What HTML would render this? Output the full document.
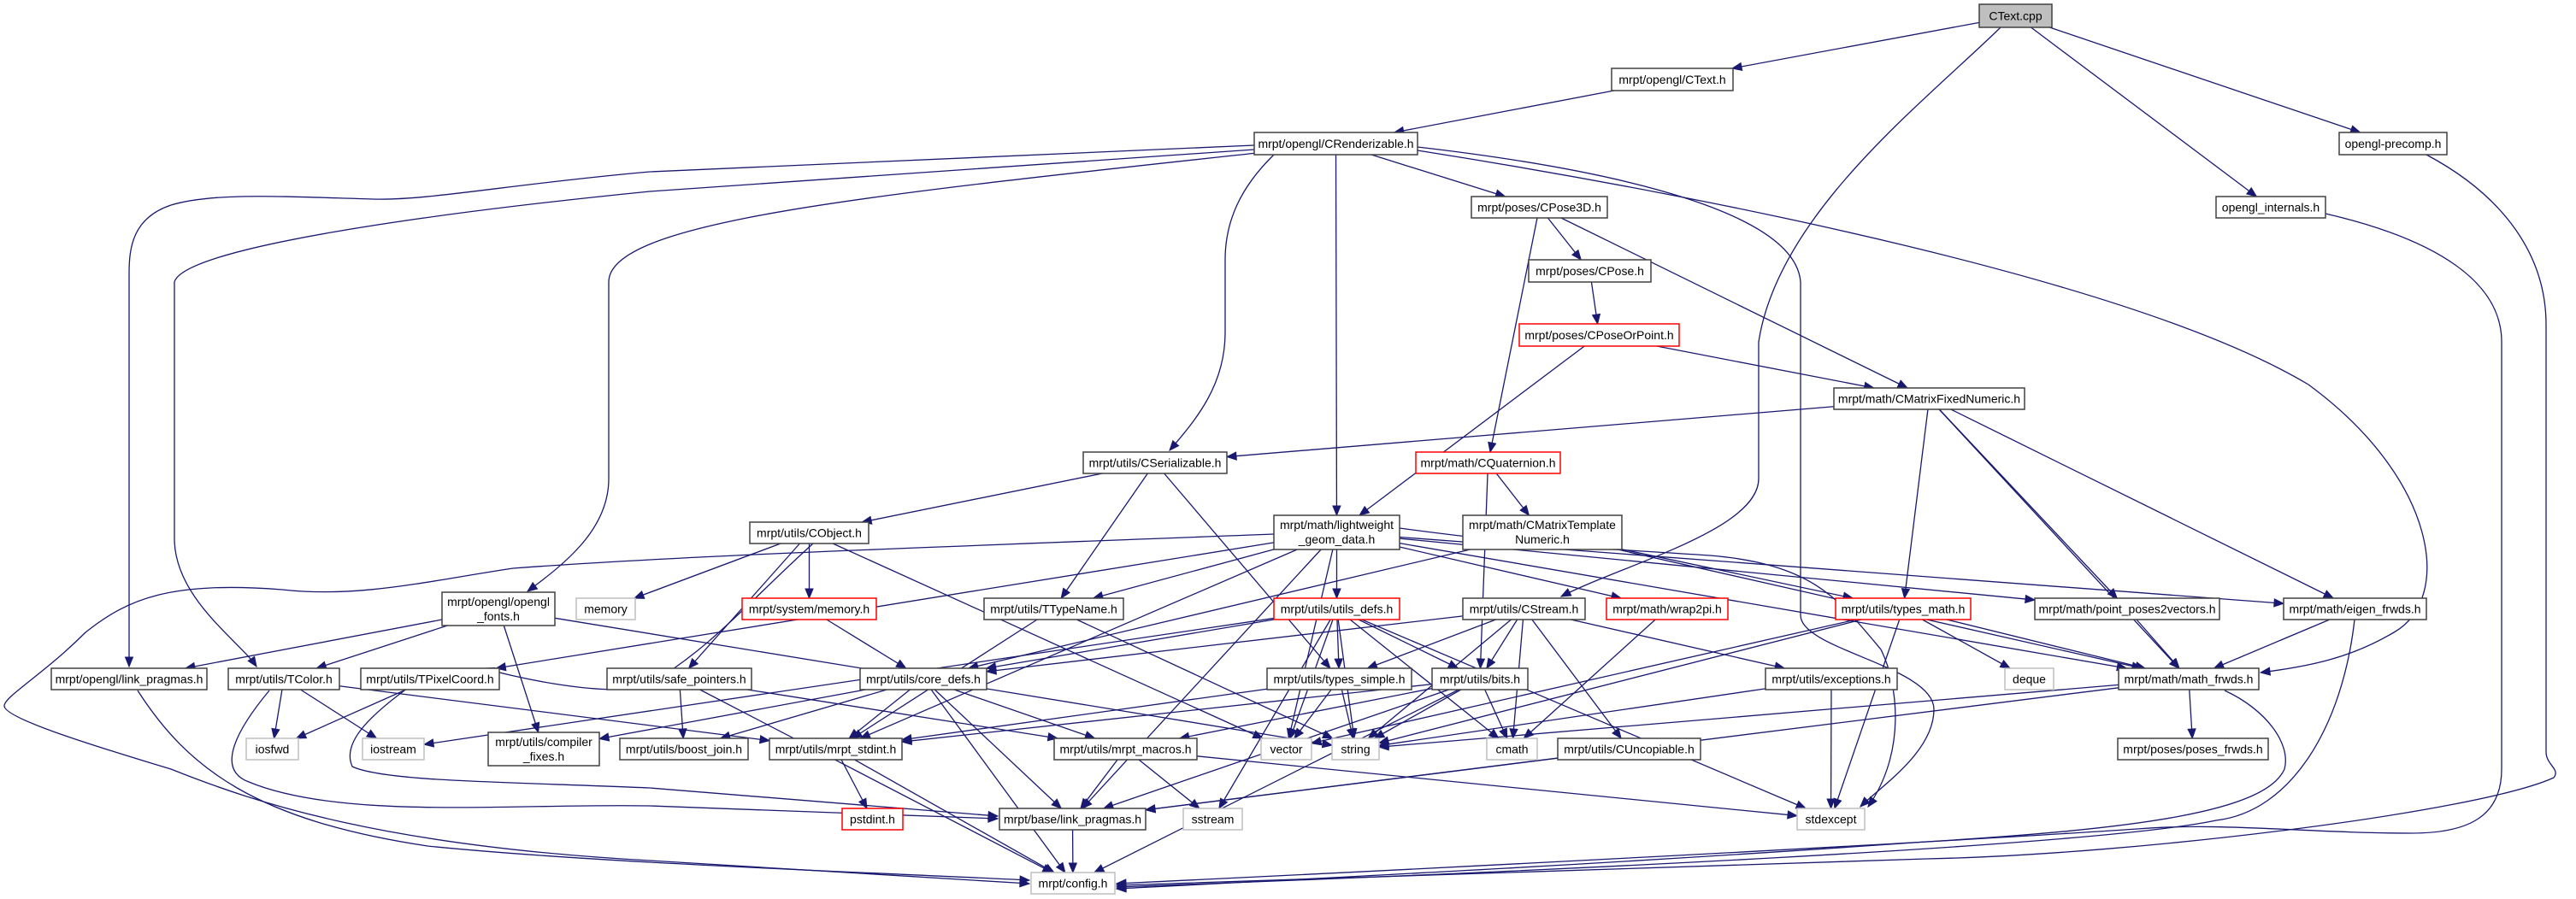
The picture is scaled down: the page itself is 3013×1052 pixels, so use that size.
<!DOCTYPE html>
<html><head><meta charset="utf-8">
<style>
html,body{margin:0;padding:0;background:#fff;}
svg{display:block;}
text{font-family:"Liberation Sans",Arial,sans-serif;font-size:14px;fill:#000;}
</style></head>
<body>
<svg id="g" width="3013" height="1052" viewBox="0 0 3013 1052" xmlns="http://www.w3.org/2000/svg">
<g id="edges" fill="none" stroke="#191970" stroke-width="1.3"></g>
<g id="arrows" fill="#191970" stroke="#191970" stroke-width="1"></g>
<g id="nodes" stroke-width="1.5">
<rect x="2315" y="5" width="85" height="27" fill="#bfbfbf" stroke="#404040"/><text x="2357.5" y="23.5" text-anchor="middle">CText.cpp</text>
<rect x="1885" y="80" width="142" height="26" fill="#fff" stroke="#404040"/><text x="1956" y="98" text-anchor="middle">mrpt/opengl/CText.h</text>
<rect x="2736" y="155" width="126" height="26" fill="#fff" stroke="#404040"/><text x="2799" y="173" text-anchor="middle">opengl-precomp.h</text>
<rect x="2592" y="230" width="128" height="25" fill="#fff" stroke="#404040"/><text x="2656" y="247.5" text-anchor="middle">opengl_internals.h</text>
<rect x="1467" y="155" width="191" height="26" fill="#fff" stroke="#404040"/><text x="1562.5" y="173" text-anchor="middle">mrpt/opengl/CRenderizable.h</text>
<rect x="1721" y="230" width="159" height="25" fill="#fff" stroke="#404040"/><text x="1800.5" y="247.5" text-anchor="middle">mrpt/poses/CPose3D.h</text>
<rect x="1788" y="304" width="143" height="26" fill="#fff" stroke="#404040"/><text x="1859.5" y="322" text-anchor="middle">mrpt/poses/CPose.h</text>
<rect x="1777" y="379" width="187" height="26" fill="#fff" stroke="#ff0000"/><text x="1870.5" y="397" text-anchor="middle">mrpt/poses/CPoseOrPoint.h</text>
<rect x="2145" y="454" width="223" height="25" fill="#fff" stroke="#404040"/><text x="2256.5" y="471.5" text-anchor="middle">mrpt/math/CMatrixFixedNumeric.h</text>
<rect x="1656" y="529" width="169" height="25" fill="#fff" stroke="#ff0000"/><text x="1740.5" y="546.5" text-anchor="middle">mrpt/math/CQuaternion.h</text>
<rect x="1267" y="529" width="168" height="25" fill="#fff" stroke="#404040"/><text x="1351" y="546.5" text-anchor="middle">mrpt/utils/CSerializable.h</text>
<rect x="1490" y="603" width="147" height="40" fill="#fff" stroke="#404040"/><text x="1563.5" y="619" text-anchor="middle">mrpt/math/lightweight</text><text x="1563.5" y="636" text-anchor="middle">_geom_data.h</text>
<rect x="1711" y="603" width="186" height="40" fill="#fff" stroke="#404040"/><text x="1804" y="619" text-anchor="middle">mrpt/math/CMatrixTemplate</text><text x="1804" y="636" text-anchor="middle">Numeric.h</text>
<rect x="877" y="611" width="139" height="25" fill="#fff" stroke="#404040"/><text x="946.5" y="628.5" text-anchor="middle">mrpt/utils/CObject.h</text>
<rect x="517" y="693" width="132" height="39" fill="#fff" stroke="#404040"/><text x="583" y="709" text-anchor="middle">mrpt/opengl/opengl</text><text x="583" y="726" text-anchor="middle">_fonts.h</text>
<rect x="674" y="700" width="69" height="25" fill="#fff" stroke="#bfbfbf"/><text x="708.5" y="717.5" text-anchor="middle">memory</text>
<rect x="868" y="700" width="157" height="25" fill="#fff" stroke="#ff0000"/><text x="946.5" y="717.5" text-anchor="middle">mrpt/system/memory.h</text>
<rect x="1151" y="700" width="163" height="25" fill="#fff" stroke="#404040"/><text x="1232.5" y="717.5" text-anchor="middle">mrpt/utils/TTypeName.h</text>
<rect x="1490" y="700" width="147" height="25" fill="#fff" stroke="#ff0000"/><text x="1563.5" y="717.5" text-anchor="middle">mrpt/utils/utils_defs.h</text>
<rect x="1711" y="700" width="143" height="25" fill="#fff" stroke="#404040"/><text x="1782.5" y="717.5" text-anchor="middle">mrpt/utils/CStream.h</text>
<rect x="1879" y="700" width="142" height="25" fill="#fff" stroke="#ff0000"/><text x="1950" y="717.5" text-anchor="middle">mrpt/math/wrap2pi.h</text>
<rect x="2147" y="700" width="158" height="25" fill="#fff" stroke="#ff0000"/><text x="2226" y="717.5" text-anchor="middle">mrpt/utils/types_math.h</text>
<rect x="2380" y="700" width="216" height="25" fill="#fff" stroke="#404040"/><text x="2488" y="717.5" text-anchor="middle">mrpt/math/point_poses2vectors.h</text>
<rect x="2671" y="700" width="167" height="25" fill="#fff" stroke="#404040"/><text x="2754.5" y="717.5" text-anchor="middle">mrpt/math/eigen_frwds.h</text>
<rect x="60" y="782" width="182" height="25" fill="#fff" stroke="#404040"/><text x="151" y="799.5" text-anchor="middle">mrpt/opengl/link_pragmas.h</text>
<rect x="267" y="782" width="130" height="25" fill="#fff" stroke="#404040"/><text x="332" y="799.5" text-anchor="middle">mrpt/utils/TColor.h</text>
<rect x="422" y="782" width="162" height="25" fill="#fff" stroke="#404040"/><text x="503" y="799.5" text-anchor="middle">mrpt/utils/TPixelCoord.h</text>
<rect x="710" y="782" width="169" height="25" fill="#fff" stroke="#404040"/><text x="794.5" y="799.5" text-anchor="middle">mrpt/utils/safe_pointers.h</text>
<rect x="1006" y="782" width="148" height="25" fill="#fff" stroke="#404040"/><text x="1080" y="799.5" text-anchor="middle">mrpt/utils/core_defs.h</text>
<rect x="1482" y="782" width="169" height="25" fill="#fff" stroke="#404040"/><text x="1566.5" y="799.5" text-anchor="middle">mrpt/utils/types_simple.h</text>
<rect x="1675" y="782" width="112" height="25" fill="#fff" stroke="#404040"/><text x="1731" y="799.5" text-anchor="middle">mrpt/utils/bits.h</text>
<rect x="2065" y="782" width="154" height="25" fill="#fff" stroke="#404040"/><text x="2142" y="799.5" text-anchor="middle">mrpt/utils/exceptions.h</text>
<rect x="2345" y="782" width="57" height="25" fill="#fff" stroke="#bfbfbf"/><text x="2373.5" y="799.5" text-anchor="middle">deque</text>
<rect x="2478" y="782" width="164" height="25" fill="#fff" stroke="#404040"/><text x="2560" y="799.5" text-anchor="middle">mrpt/math/math_frwds.h</text>
<rect x="288" y="864" width="61" height="25" fill="#fff" stroke="#bfbfbf"/><text x="318.5" y="881.5" text-anchor="middle">iosfwd</text>
<rect x="424" y="864" width="72" height="25" fill="#fff" stroke="#bfbfbf"/><text x="460" y="881.5" text-anchor="middle">iostream</text>
<rect x="571" y="857" width="130" height="39" fill="#fff" stroke="#404040"/><text x="636" y="873" text-anchor="middle">mrpt/utils/compiler</text><text x="636" y="890" text-anchor="middle">_fixes.h</text>
<rect x="725" y="864" width="150" height="25" fill="#fff" stroke="#404040"/><text x="800" y="881.5" text-anchor="middle">mrpt/utils/boost_join.h</text>
<rect x="900" y="864" width="155" height="25" fill="#fff" stroke="#404040"/><text x="977.5" y="881.5" text-anchor="middle">mrpt/utils/mrpt_stdint.h</text>
<rect x="1233" y="864" width="167" height="25" fill="#fff" stroke="#404040"/><text x="1316.5" y="881.5" text-anchor="middle">mrpt/utils/mrpt_macros.h</text>
<rect x="1475" y="864" width="59" height="25" fill="#fff" stroke="#bfbfbf"/><text x="1504.5" y="881.5" text-anchor="middle">vector</text>
<rect x="1558" y="864" width="55" height="25" fill="#fff" stroke="#bfbfbf"/><text x="1585.5" y="881.5" text-anchor="middle">string</text>
<rect x="1739" y="864" width="59" height="25" fill="#fff" stroke="#bfbfbf"/><text x="1768.5" y="881.5" text-anchor="middle">cmath</text>
<rect x="1822" y="864" width="167" height="25" fill="#fff" stroke="#404040"/><text x="1905.5" y="881.5" text-anchor="middle">mrpt/utils/CUncopiable.h</text>
<rect x="2477" y="864" width="176" height="25" fill="#fff" stroke="#404040"/><text x="2565" y="881.5" text-anchor="middle">mrpt/poses/poses_frwds.h</text>
<rect x="985" y="946" width="71" height="25" fill="#fff" stroke="#ff0000"/><text x="1020.5" y="963.5" text-anchor="middle">pstdint.h</text>
<rect x="1169" y="946" width="171" height="25" fill="#fff" stroke="#404040"/><text x="1254.5" y="963.5" text-anchor="middle">mrpt/base/link_pragmas.h</text>
<rect x="1384" y="946" width="69" height="25" fill="#fff" stroke="#bfbfbf"/><text x="1418.5" y="963.5" text-anchor="middle">sstream</text>
<rect x="2102" y="946" width="79" height="25" fill="#fff" stroke="#bfbfbf"/><text x="2141.5" y="963.5" text-anchor="middle">stdexcept</text>
<rect x="1206" y="1021" width="98" height="25" fill="#fff" stroke="#bfbfbf"/><text x="1255" y="1038.5" text-anchor="middle">mrpt/config.h</text>
</g>
</svg>
<script>
(function(){
var N={cpp:[2315,5,85,27],ctexth:[1885,80,142,26],precomp:[2736,155,126,26],internals:[2592,230,128,25],rend:[1467,155,191,26],pose3d:[1721,230,159,25],pose:[1788,304,143,26],por:[1777,379,187,26],cmfn:[2145,454,223,25],quat:[1656,529,169,25],ser:[1267,529,168,25],lw:[1490,603,147,40],cmtn:[1711,603,186,40],obj:[877,611,139,25],fonts:[517,693,132,39],memory:[674,700,69,25],smem:[868,700,157,25],ttn:[1151,700,163,25],udefs:[1490,700,147,25],cstream:[1711,700,143,25],wrap:[1879,700,142,25],tmath:[2147,700,158,25],pp2v:[2380,700,216,25],eigen:[2671,700,167,25],olink:[60,782,182,25],tcolor:[267,782,130,25],tpix:[422,782,162,25],safe:[710,782,169,25],core:[1006,782,148,25],tsimple:[1482,782,169,25],bits:[1675,782,112,25],exc:[2065,782,154,25],deque:[2345,782,57,25],mfrwds:[2478,782,164,25],iosfwd:[288,864,61,25],iostream:[424,864,72,25],cfix:[571,857,130,39],bjoin:[725,864,150,25],stdint:[900,864,155,25],macros:[1233,864,167,25],vector:[1475,864,59,25],string:[1558,864,55,25],cmath:[1739,864,59,25],uncop:[1822,864,167,25],pfrwds:[2477,864,176,25],pstdint:[985,946,71,25],blink:[1169,946,171,25],sstream:[1384,946,69,25],stdexc:[2102,946,79,25],config:[1206,1021,98,25]};
var E=[["cpp","ctexth"],["cpp","internals"],["cpp","precomp"],["ctexth","rend"],["rend","pose3d"],["rend","lw"],["pose3d","pose"],["pose3d","quat"],["pose3d","cmfn"],["pose","por"],["por","cmfn"],["por","lw"],["cmfn","ser"],["cmfn","tmath"],["cmfn","pp2v"],["cmfn","mfrwds"],["cmfn","eigen"],["ser","obj"],["ser","ttn"],["ser","tsimple"],["quat","cmtn"],["quat","bits"],["cmtn","core"],["cmtn","tmath"],["cmtn","mfrwds"],["obj","memory"],["obj","smem"],["obj","safe"],["obj","vector"],["lw","ttn"],["lw","udefs"],["lw","wrap"],["lw","pp2v"],["lw","eigen"],["lw","mfrwds"],["lw","tpix"],["lw","stdint"],["lw","vector"],["lw","blink"],["fonts","olink"],["fonts","tcolor"],["fonts","cfix"],["fonts","string"],["tcolor","iosfwd"],["tcolor","iostream"],["tcolor","stdint"],["tpix","iosfwd"],["smem","core"],["ttn","stdint"],["ttn","string"],["udefs","core"],["udefs","tsimple"],["udefs","bits"],["udefs","string"],["udefs","vector"],["udefs","stdexc"],["udefs","sstream"],["udefs","iostream"],["udefs","cmath"],["cstream","core"],["cstream","tsimple"],["cstream","bits"],["cstream","cmath"],["cstream","uncop"],["cstream","exc"],["cstream","string"],["wrap","cmath"],["tmath","deque"],["tmath","mfrwds"],["tmath","stdexc"],["tmath","vector"],["tmath","string"],["pp2v","mfrwds"],["eigen","mfrwds"],["safe","bjoin"],["safe","macros"],["safe","config"],["core","cfix"],["core","bjoin"],["core","stdint"],["core","macros"],["core","blink"],["core","config"],["tsimple","vector"],["tsimple","string"],["tsimple","stdint"],["bits","string"],["bits","cmath"],["bits","macros"],["bits","config"],["bits","blink"],["bits","stdint"],["exc","stdexc"],["exc","string"],["uncop","blink"],["stdint","pstdint"],["stdint","config"],["macros","blink"],["macros","sstream"],["macros","stdexc"],["blink","config"],["mfrwds","pfrwds"],["mfrwds","string"],["mfrwds","blink"]];
var C=[
"M2340,32 C2250,120 2080,250 2057,400 L2057,560 C2057,620 1900,660 1826,698",
"M1467,170 L760,201 C600,215 500,235 436,233 C330,230 250,225 200,240 C155,255 151,290 151,320 L151,780",
"M1467,175 L760,224 C500,250 215,290 204,330 L204,630 C204,700 280,750 300,780",
"M1470,179 C1000,230 712,260 712,330 L712,560 C712,620 660,660 617,692",
"M1490,181 C1450,220 1433,260 1433,304 L1433,389 C1433,450 1400,490 1368,527",
"M1658,172 C1900,200 2100,250 2106,330 L2106,720 C2106,760 2262,780 2262,830 C2262,880 2200,920 2176,944",
"M1658,176 C2000,230 2500,330 2700,450 C2850,560 2870,700 2800,740 C2750,770 2700,780 2644,787",
"M2720,250 C2850,280 2926,330 2926,400 L2926,900 C2926,960 2880,975 2820,975 C2700,975 2600,962 2500,970 C2200,990 1600,1020 1306,1034",
"M2838,181 C2930,230 2978,300 2978,380 L2978,880 C2978,895 2995,900 2987,910 C2900,950 2500,1000 2253,1005 C1900,1015 1600,1025 1306,1036",
"M2754,725 C2740,850 2680,950 2592,960 C2450,990 1800,1020 1306,1038",
"M2602,808 C2650,830 2680,870 2672,900 C2650,950 2500,970 2253,985 C1900,1010 1600,1025 1306,1040",
"M1490,625 C1100,640 800,650 600,665 C500,680 420,700 330,690 C200,680 150,700 100,740 C50,790 5,815 5,826 C5,840 100,870 200,900 C300,940 450,990 760,1007 L1204,1034",
"M315,808 C280,850 250,900 291,915 C400,960 600,940 760,943 L1167,958",
"M473,808 C430,840 400,870 412,897 C450,915 600,915 760,922 L1167,955",
"M161,808 C220,900 300,960 500,990 C700,1010 1000,1020 1204,1030",
"M951,636 C880,700 830,760 760,800 C720,820 590,790 567,782",
"M1637,618 C1800,640 1850,640 2000,650 C2120,660 2150,700 2200,760 C2220,800 2230,880 2185,944"
];
var ns="http://www.w3.org/2000/svg",eg=document.getElementById("edges"),ag=document.getElementById("arrows");
function hit(b,px,py){var cx=b[0]+b[2]/2,cy=b[1]+b[3]/2,dx=px-cx,dy=py-cy;if(!dx&&!dy)return[cx,cy];var tx=dx?(b[2]/2)/Math.abs(dx):1e9,ty=dy?(b[3]/2)/Math.abs(dy):1e9,t=Math.min(tx,ty);return[cx+dx*t,cy+dy*t];}
function arrow(px,py,x,y){var dx=x-px,dy=y-py,l=Math.sqrt(dx*dx+dy*dy)||1;dx/=l;dy/=l;var L=11,W=4.5,bx=x-dx*L,by=y-dy*L;var p=document.createElementNS(ns,"polygon");p.setAttribute("points",x+","+y+" "+(bx-dy*W)+","+(by+dx*W)+" "+(bx+dy*W)+","+(by-dx*W));ag.appendChild(p);}
function path(d){var p=document.createElementNS(ns,"path");p.setAttribute("d",d);eg.appendChild(p);}
E.forEach(function(e){var a=N[e[0]],b=N[e[1]];var ac=[a[0]+a[2]/2,a[1]+a[3]/2],bc=[b[0]+b[2]/2,b[1]+b[3]/2];var s=hit(a,bc[0],bc[1]),t=hit(b,ac[0],ac[1]);path("M"+s[0]+","+s[1]+" L"+t[0]+","+t[1]);arrow(s[0],s[1],t[0],t[1]);});
C.forEach(function(d){path(d);var n=d.match(/-?\d+(\.\d+)?/g).map(Number),k=n.length;arrow(n[k-4],n[k-3],n[k-2],n[k-1]);});
})();
</script>
</body></html>
